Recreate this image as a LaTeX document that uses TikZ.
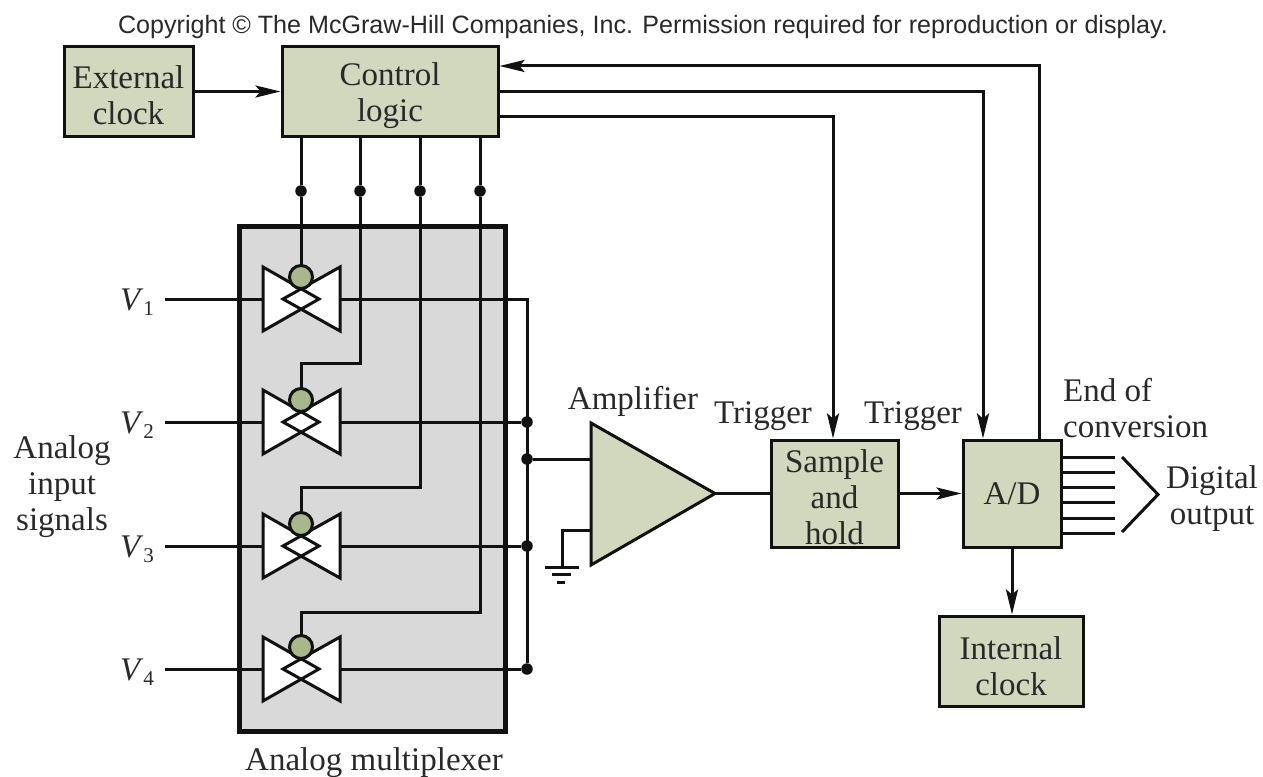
\documentclass[tikz,border=0pt]{standalone}
\usepackage{fontspec}
\setmainfont{Liberation Serif}
\newfontfamily\titlefont{Liberation Sans}
\usetikzlibrary{arrows.meta,calc}
\definecolor{boxgreen}{HTML}{D2D8BE}
\definecolor{muxgray}{HTML}{D9D9D9}
\definecolor{knob}{HTML}{A9B78C}
\definecolor{ink}{HTML}{111111}
\tikzset{
  blockbox/.style={draw=ink,fill=boxgreen,line width=3pt,inner sep=0pt},
  lbl/.style={inner sep=0pt,align=center,font=\fontsize{33}{36}\selectfont,text=ink!90},
  wire/.style={draw=ink,line width=3pt},
  arrowwire/.style={wire,-{Stealth[length=25pt,width=12pt,inset=5pt]}},
  jdot/.style={circle,fill=ink,inner sep=0pt,minimum size=11.5pt},
  knobnode/.style={circle,draw=ink,fill=knob,line width=3pt,inner sep=0pt,minimum size=23pt},
  vlabel/.style={inner sep=0pt,font=\fontsize{33}{35}\selectfont,text=ink!90}
}
\begin{document}
\begin{tikzpicture}[x=1pt,y=-1pt]
\useasboundingbox (0,0) rectangle (1263,776);
\node[inner sep=0pt,font=\titlefont\fontsize{25.1}{28}\selectfont,text=ink!90] (title) at (643,27) {Copyright © The McGraw-Hill Companies, Inc. Permission required for reproduction or display.};
% blocks
\node[blockbox,minimum width=129pt,minimum height=89pt] (ext) at (128.5,91.5) {};
\node[blockbox,minimum width=216pt,minimum height=89pt] (ctl) at (390,91.5) {};
\node[draw=ink,fill=muxgray,line width=5pt,minimum width=266pt,minimum height=505pt,inner sep=0pt] (mux) at (372,478.5) {};
\node[blockbox,minimum width=127pt,minimum height=107pt] (sh) at (834.5,493.5) {};
\node[blockbox,minimum width=98pt,minimum height=107pt] (ad) at (1012,493.5) {};
\node[blockbox,minimum width=144pt,minimum height=90pt] (ic) at (1011,661) {};
\node[lbl] (extt) at ($(ext)+(0,4)$) {External\\clock};
\node[lbl] (ctlt) at ($(ctl)+(0,4)$) {Control\\logic};
\node[lbl] (sht) at ($(sh)+(0,4)$) {Sample\\and\\hold};
\node[lbl] (adt) at (ad) {A/D};
\node[lbl] (ict) at ($(ic)+(0,5)$) {Internal\\clock};
% amplifier
\draw[draw=ink,fill=boxgreen,line width=3pt,line join=miter] (591,423) -- (715,493.5) -- (591,565) -- cycle;
\coordinate (ampin) at (591,459);
\coordinate (ampgnd) at (591,530);
\coordinate (ampout) at (715,493.5);
% junctions
\coordinate (c1) at (301,136); \coordinate (c2) at (360,136); \coordinate (c3) at (420,136); \coordinate (c4) at (480,136);
\node[jdot] (d1) at (301,191) {};
\node[jdot] (d2) at (360,191) {};
\node[jdot] (d3) at (420,191) {};
\node[jdot] (d4) at (480,191) {};
\node[jdot] (b2) at (527,422) {};
\node[jdot] (ba) at (527,459) {};
\node[jdot] (b3) at (527,546) {};
\node[jdot] (b4) at (527,669) {};
\coordinate (b1) at (527,299);
% control wires
\coordinate (k1) at (301,277); \coordinate (k2) at (301,400); \coordinate (k3) at (301,524); \coordinate (k4) at (301,647);
\draw[wire] (c1) -- (d1) -- (k1);
\draw[wire] (c2) -- (d2) -- (360,363) -- (301,363) -- (k2);
\draw[wire] (c3) -- (d3) -- (420,487) -- (301,487) -- (k3);
\draw[wire] (c4) -- (d4) -- (480,612) -- (301,612) -- (k4);
% signal wires
\coordinate (i1) at (165,299); \coordinate (i2) at (165,422); \coordinate (i3) at (165,546); \coordinate (i4) at (165,669);
\draw[wire] (i1) -- (301,299) -- (b1) -- (b4);
\draw[wire] (i2) -- (b2);
\draw[wire] (i3) -- (b3);
\draw[wire] (i4) -- (b4);
\draw[wire] (ba) -- (ampin);
% switches
\foreach \n/\y in {1/299,2/422,3/546,4/669}{
  \fill[white] (263,\y-32) -- (319,\y) -- (263,\y+32) -- cycle;
  \fill[white] (340,\y-32) -- (283,\y) -- (340,\y+32) -- cycle;
  \draw[draw=ink,line width=3pt,line join=miter] (263,\y-32) -- (319,\y) -- (263,\y+32) -- cycle;
  \draw[draw=ink,line width=3pt,line join=miter] (340,\y-32) -- (283,\y) -- (340,\y+32) -- cycle;
  \node[knobnode] (knob\n) at (301,\y-22) {};
}
% ground
\coordinate (g) at (562,567);
\draw[wire] (ampgnd) -- (562,530) -- (g);
\draw[wire] (545,567) -- (579,567);
\draw[wire] (552,574.5) -- (571,574.5);
\draw[wire] (557,582) -- (565,582);
% signal path
\draw[wire] (ampout) -- (ampout -| sh.west);
\draw[arrowwire] (sh.east) -- (ad.west);
\draw[arrowwire] (ext.east) -- (ext.east -| ctl.west);
\coordinate (e1) at (1039,66);
\draw[arrowwire] (ad.north -| e1) -- (e1) -- (ctl.east |- e1);
\coordinate (e2) at (983,91);
\draw[arrowwire] (ctl.east |- e2) -- (e2) -- (e2 |- ad.north);
\coordinate (e3) at (833,116);
\draw[arrowwire] (ctl.east |- e3) -- (e3) -- (e3 |- sh.north);
\draw[arrowwire] (ad.south) -- (ad.south |- ic.north);
% output bus
\foreach \y in {457,472,487,502,518,533}{
  \draw[wire] (ad.east |- 0,\y) -- (1115,\y);
}
\draw[draw=ink,line width=3pt,line join=miter] (1122,457) -- (1158,494.5) -- (1122,532);
% labels
\node[vlabel] (v1) at (137,302) {\textit{V}\raisebox{-5pt}{\fontsize{21}{24}\selectfont 1}};
\node[vlabel] (v2) at (137,425) {\textit{V}\raisebox{-5pt}{\fontsize{21}{24}\selectfont 2}};
\node[vlabel] (v3) at (137,549) {\textit{V}\raisebox{-5pt}{\fontsize{21}{24}\selectfont 3}};
\node[vlabel] (v4) at (137,672) {\textit{V}\raisebox{-5pt}{\fontsize{21}{24}\selectfont 4}};
\node[lbl] (ain) at (62,487) {Analog\\input\\signals};
\node[lbl] (amp) at (633,401) {Amplifier};
\node[lbl] (t1) at (763,416) {Trigger};
\node[lbl] (t2) at (913,416) {Trigger};
\node[lbl,align=left,anchor=west] (eoc) at (1063,408) {End of\\conversion};
\node[lbl] (dig) at (1212,499) {Digital\\output};
\node[lbl] (mlabel) at (374,763) {Analog multiplexer};
\end{tikzpicture}
\end{document}
